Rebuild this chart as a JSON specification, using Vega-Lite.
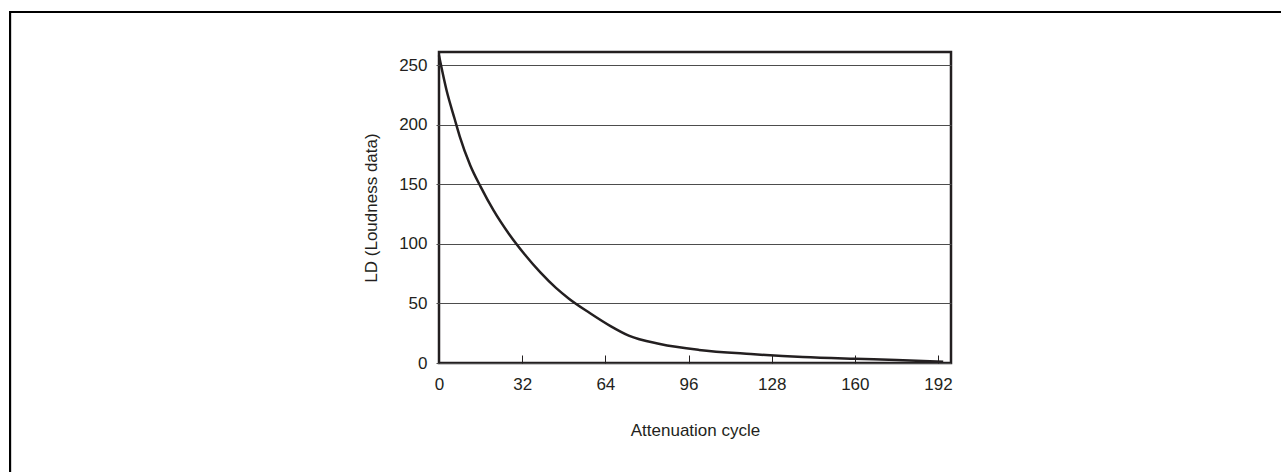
{
  "$schema": "https://vega.github.io/schema/vega-lite/v6.json",
  "autosize": "none",
  "width": 512,
  "height": 311,
  "padding": {"left": 439, "top": 52, "right": 330, "bottom": 109},
  "background": "white",
  "config": {
    "font": "Liberation Sans",
    "view": {"stroke": "#231f20", "strokeWidth": 2.5},
    "axis": {"labelColor": "#231f20", "titleColor": "#231f20", "labelFont": "Liberation Sans", "titleFont": "Liberation Sans", "labelFontSize": 17, "titleFontSize": 17, "titleFontWeight": "normal", "labelFlush": false, "labelOverlap": false}
  },
  "data": {"values": [
    {"cycle": 0, "ld": 258},
    {"cycle": 3, "ld": 228},
    {"cycle": 6, "ld": 205},
    {"cycle": 8, "ld": 190},
    {"cycle": 12, "ld": 166},
    {"cycle": 16, "ld": 148},
    {"cycle": 21, "ld": 128},
    {"cycle": 27, "ld": 108},
    {"cycle": 33, "ld": 91},
    {"cycle": 39, "ld": 76},
    {"cycle": 45, "ld": 63},
    {"cycle": 50, "ld": 54},
    {"cycle": 58, "ld": 42},
    {"cycle": 66, "ld": 31},
    {"cycle": 73, "ld": 23},
    {"cycle": 85, "ld": 16},
    {"cycle": 100, "ld": 11},
    {"cycle": 120, "ld": 7.5},
    {"cycle": 140, "ld": 5},
    {"cycle": 160, "ld": 3.5},
    {"cycle": 176, "ld": 2.5},
    {"cycle": 194, "ld": 1}
  ]},
  "layer": [
    {
      "mark": {"type": "line", "color": "#231f20", "strokeWidth": 2.5, "interpolate": "monotone"},
      "encoding": {
        "x": {"field": "cycle", "type": "quantitative", "title": "Attenuation cycle",
              "scale": {"domain": [0, 197], "nice": false, "zero": false},
              "axis": {"values": [0, 32, 64, 96, 128, 160, 192], "grid": false, "domain": false, "tickColor": "#231f20", "tickWidth": 1, "tickSize": -8, "labelPadding": 21, "titlePadding": 30}},
        "y": {"field": "ld", "type": "quantitative", "title": "LD (Loudness data)",
              "scale": {"domain": [0, 261], "nice": false, "zero": false},
              "axis": {"values": [0, 50, 100, 150, 200, 250], "grid": true, "gridColor": "#4d4d4d", "gridWidth": 1, "domain": false, "tickColor": "#4d4d4d", "tickSize": 3, "labelPadding": 9, "titlePadding": 18}}
      }
    },
    {
      "mark": {"type": "rule", "color": "black", "strokeWidth": 2, "strokeCap": "square"},
      "encoding": {
        "x": {"datum": -165.06, "type": "quantitative", "title": "Attenuation cycle", "scale": {"domain": [0, 197], "nice": false, "zero": false}},
        "y": {"datum": 294.57, "type": "quantitative", "title": "LD (Loudness data)", "scale": {"domain": [0, 261], "nice": false, "zero": false}},
        "x2": {"datum": 340}
      }
    },
    {
      "mark": {"type": "rule", "color": "black", "strokeWidth": 2, "strokeCap": "square"},
      "encoding": {
        "x": {"datum": -165.06, "type": "quantitative", "title": "Attenuation cycle", "scale": {"domain": [0, 197], "nice": false, "zero": false}},
        "y": {"datum": 294.57, "type": "quantitative", "title": "LD (Loudness data)", "scale": {"domain": [0, 261], "nice": false, "zero": false}},
        "y2": {"datum": -120}
      }
    }
  ]
}
